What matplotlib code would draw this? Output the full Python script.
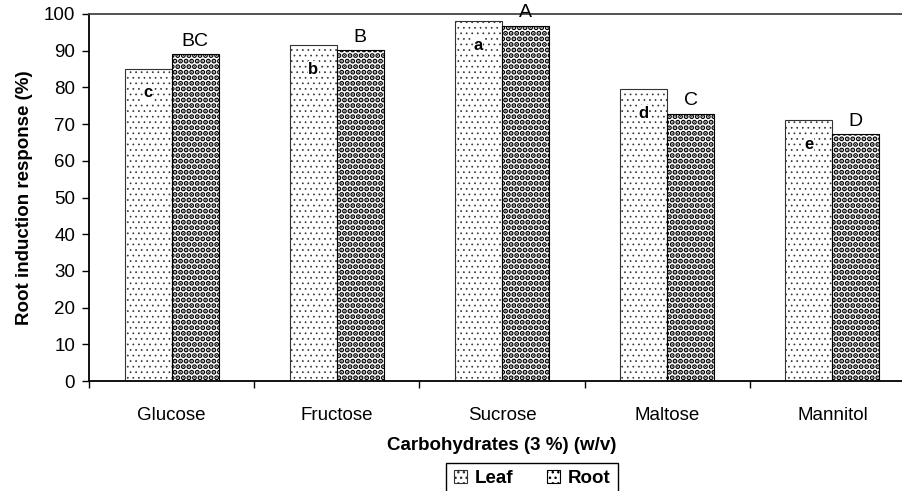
import matplotlib.pyplot as plt
import numpy as np

plt.rcParams['font.family'] = ['Liberation Sans', 'DejaVu Sans']

categories = ['Glucose', 'Fructose', 'Sucrose', 'Maltose', 'Mannitol']
leaf = [85.0, 91.5, 98.0, 79.5, 71.0]
root = [89.0, 90.2, 96.8, 72.8, 67.3]
leaf_letters = ['c', 'b', 'a', 'd', 'e']
root_letters = ['BC', 'B', 'A', 'C', 'D']

fig = plt.figure(figsize=(9.02, 4.91), dpi=100)
ax = fig.add_axes([0.0987, 0.224, 0.9157, 0.7475])

x = np.arange(len(categories))
w = 0.285

b1 = ax.bar(x - w / 2, leaf, w, facecolor='white', edgecolor='#333333',
            hatch='...', linewidth=0.8, label='Leaf')
b2 = ax.bar(x + w / 2, root, w, facecolor='white', edgecolor='black',
            hatch='...', linewidth=0.8, label='Root')
for bar in b1:
    bar.set_hatch_linewidth(0.5)
for bar in b2:
    bar.set_hatch_linewidth(2.6)

for i in range(len(categories)):
    ax.text(x[i] - w / 2, leaf[i] - 6.5, leaf_letters[i], ha='center', va='center',
            fontsize=12, fontweight='bold',
            bbox=dict(facecolor='white', edgecolor='none', pad=0.2))
    ax.text(x[i] + w / 2, root[i] + 1.2, root_letters[i], ha='center', va='bottom',
            fontsize=14, clip_on=False)

ax.set_xlim(-0.5, len(categories) - 0.5)
ax.set_ylim(0, 100)
ax.set_yticks(np.arange(0, 101, 10))
ax.set_xticks(np.arange(-0.5, len(categories), 1.0))
ax.set_xticklabels([])
ax.set_xticks(x, minor=True)
ax.set_xticklabels(categories, minor=True)
ax.tick_params(axis='x', which='minor', length=0, pad=19, labelsize=13.5)
ax.tick_params(axis='x', which='major', length=5, width=1, direction='out')
ax.tick_params(axis='y', length=5, width=1, direction='out', labelsize=13.5, pad=5)

for s in ['left', 'bottom', 'top']:
    ax.spines[s].set_linewidth(1.3)
ax.spines['top'].set_color('#444444')
ax.spines['right'].set_visible(False)

ax.set_ylabel('Root induction response (%)', fontsize=13.5, fontweight='bold', labelpad=8)
ax.set_xlabel('Carbohydrates (3 %) (w/v)', fontsize=13.5, fontweight='bold', labelpad=9)

leg = fig.legend(handles=[b1, b2], loc='upper center', bbox_to_anchor=(0.59, 0.058),
                 ncol=2, fancybox=False, edgecolor='black', framealpha=1,
                 handlelength=0.7, handleheight=0.7, handletextpad=0.4,
                 columnspacing=1.8, borderpad=0.4, borderaxespad=0,
                 prop={'weight': 'bold', 'size': 13.5})
leg.get_frame().set_linewidth(1.0)

fig.savefig('out.png', dpi=100)
